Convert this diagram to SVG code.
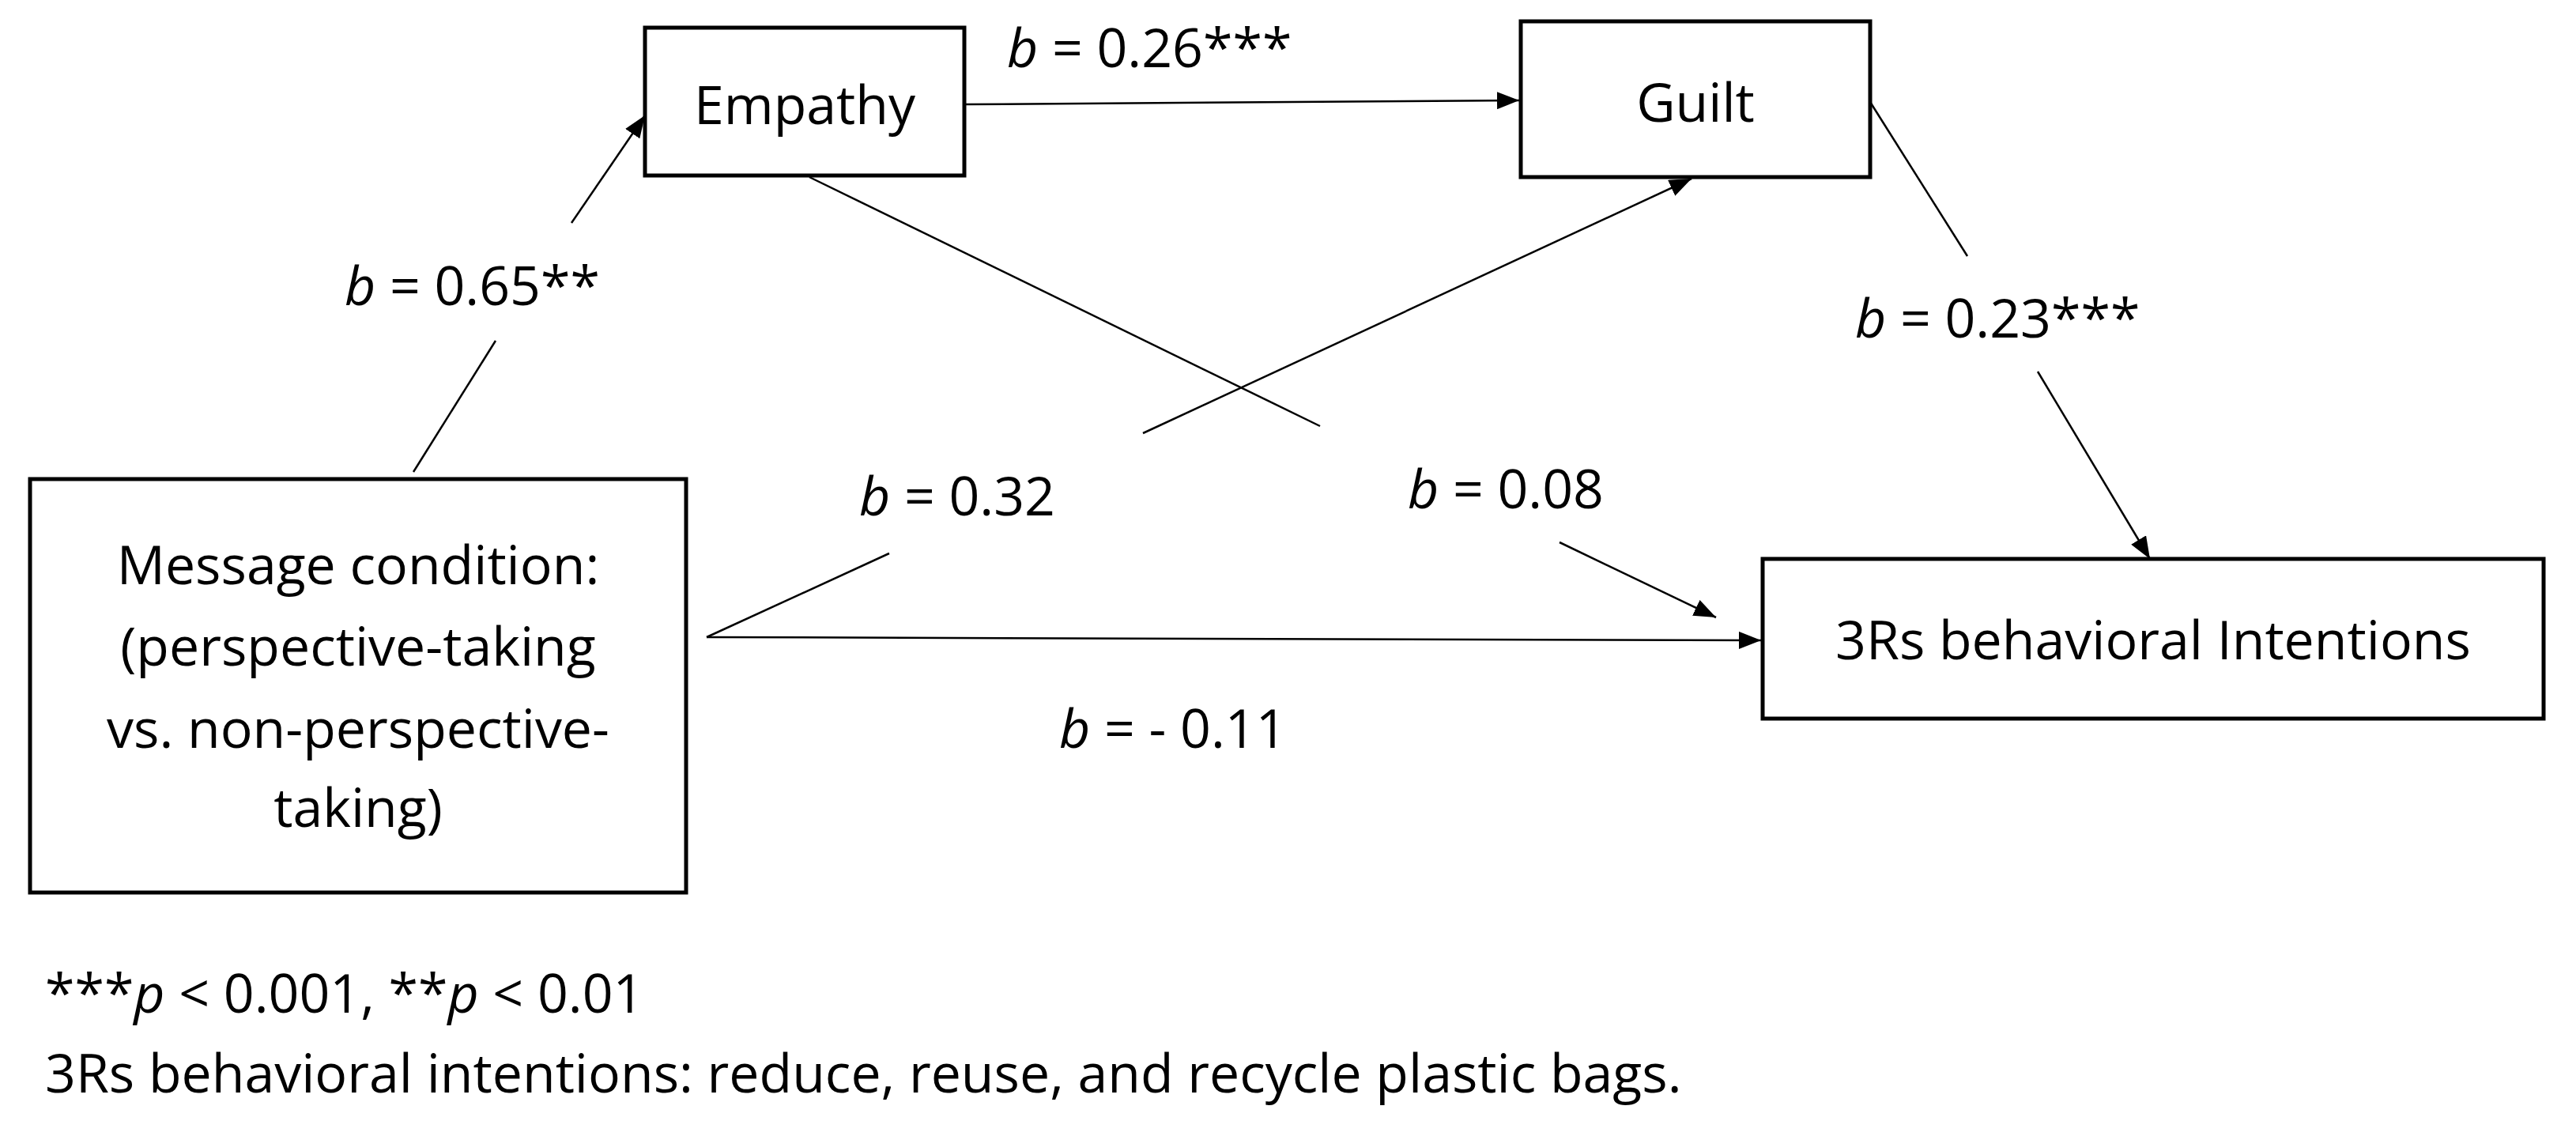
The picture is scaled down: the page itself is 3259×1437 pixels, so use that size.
<svg xmlns="http://www.w3.org/2000/svg" width="3259" height="1437" viewBox="0 0 3259 1437">
<style>
.box{fill:#fff;stroke:#000;stroke-width:5}
.t{font-family:"Open Sans","Liberation Sans",sans-serif;font-size:68px;fill:#000}
.c{text-anchor:middle}
.ln{stroke:#000;stroke-width:2.5;fill:none}
</style>
<defs>
<marker id="ah" viewBox="0 0 10 10" refX="10" refY="5" markerWidth="10" markerHeight="10" markerUnits="userSpaceOnUse" orient="auto" style="overflow:visible">
<path d="M0,0 L10,5 L0,10 z" fill="#000" transform="scale(1)"/>
</marker>
<marker id="a" viewBox="0 0 28 22" refX="28" refY="11" markerWidth="28" markerHeight="22" markerUnits="userSpaceOnUse" orient="auto">
<path d="M0,0 L28,11 L0,22 z" fill="#000"/>
</marker>
</defs>
<rect width="3259" height="1437" fill="#fff"/>
<g id="connectors">
<line class="ln" x1="523" y1="597" x2="627" y2="431"/>
<line class="ln" x1="723" y1="282" x2="816" y2="146" marker-end="url(#a)"/>
<line class="ln" x1="1220" y1="132" x2="1922" y2="127" marker-end="url(#a)"/>
<line class="ln" x1="1024" y1="224" x2="1670" y2="539"/>
<line class="ln" x1="1973" y1="686" x2="2171" y2="781" marker-end="url(#a)"/>
<line class="ln" x1="1125" y1="700" x2="894" y2="806"/>
<line class="ln" x1="1446" y1="548" x2="2140" y2="226" marker-end="url(#a)"/>
<line class="ln" x1="894" y1="806" x2="2228" y2="810" marker-end="url(#a)"/>
<line class="ln" x1="2366" y1="129" x2="2489" y2="324"/>
<line class="ln" x1="2578" y1="470" x2="2720" y2="707" marker-end="url(#a)"/>
</g>
<g id="empathy"><rect class="box" x="816" y="35" width="404" height="187"/><text class="t c" x="1018" y="157">Empathy</text></g>
<g id="guilt"><rect class="box" x="1924" y="27" width="442" height="197"/><text class="t c" x="2145" y="154">Guilt</text></g>
<g id="message"><rect class="box" x="38" y="606" width="830" height="523"/>
<text class="t c" x="453" y="739">Message condition:</text>
<text class="t c" x="453" y="842">(perspective-taking</text>
<text class="t c" x="453" y="946">vs. non-perspective-</text>
<text class="t c" x="453" y="1046">taking)</text></g>
<g id="intentions"><rect class="box" x="2230" y="707" width="988" height="202"/><text class="t c" x="2724" y="834">3Rs behavioral Intentions</text></g>
<g id="labels">
<text class="t" x="1274" y="85"><tspan font-style="italic">b</tspan> = 0.26***</text>
<text class="t" x="436" y="386"><tspan font-style="italic">b</tspan> = 0.65**</text>
<text class="t" x="1087" y="652"><tspan font-style="italic">b</tspan> = 0.32</text>
<text class="t" x="1781" y="643"><tspan font-style="italic">b</tspan> = 0.08</text>
<text class="t" x="2347" y="427"><tspan font-style="italic">b</tspan> = 0.23***</text>
<text class="t" x="1340" y="946"><tspan font-style="italic">b</tspan> = - 0.11</text>
<text class="t" x="57" y="1281">***<tspan font-style="italic">p</tspan> &lt; 0.001, **<tspan font-style="italic">p</tspan> &lt; 0.01</text>
<text class="t" x="57" y="1382">3Rs behavioral intentions: reduce, reuse, and recycle plastic bags.</text>
</g>
</svg>
